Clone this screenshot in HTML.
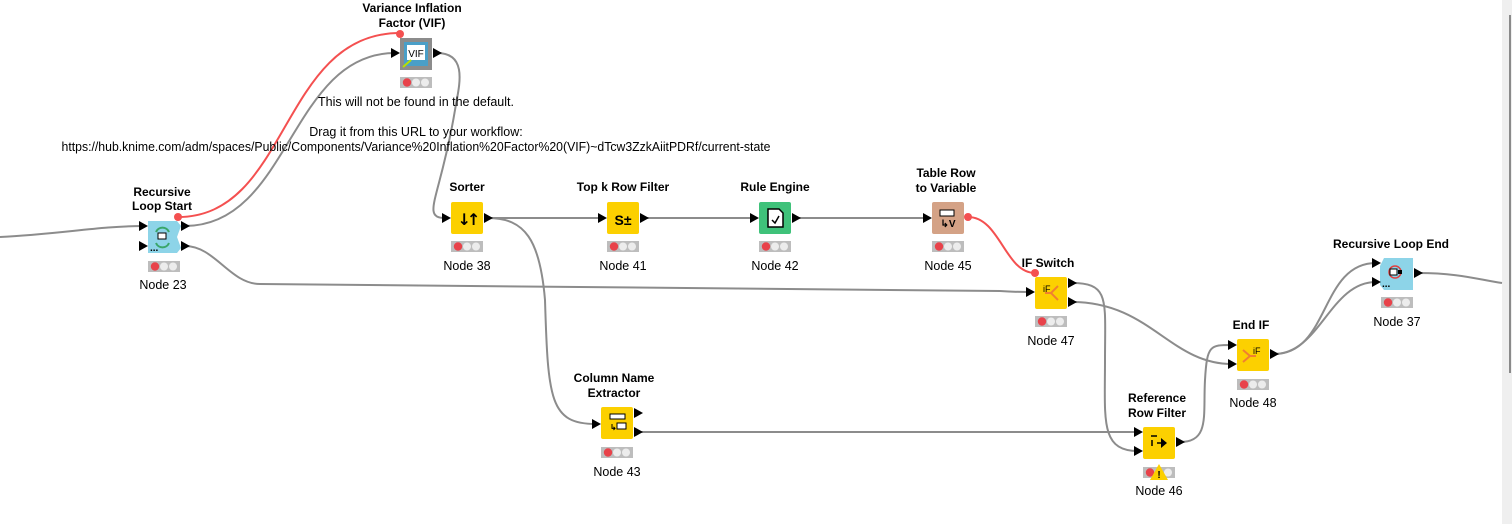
<!DOCTYPE html>
<html><head><meta charset="utf-8"><style>
body{margin:0;background:#fff;}
svg{display:block;font-family:"Liberation Sans",Arial,sans-serif;}
.t{font-size:12px;font-weight:bold;text-anchor:middle;fill:#000}
.n{font-size:12.5px;text-anchor:middle;fill:#000}
.c{fill:none;stroke:#8c8c8c;stroke-width:2}
.r{fill:none;stroke:#f45050;stroke-width:2}
</style></head><body>
<svg width="1512" height="524" viewBox="0 0 1512 524" xmlns="http://www.w3.org/2000/svg">
<defs>
<g id="st"><rect x="0" y="0" width="32" height="11" fill="#bdbdbd"/><circle cx="7" cy="5.5" r="4.2" fill="#e8424a"/><circle cx="16" cy="5.5" r="4" fill="#ececec"/><circle cx="25" cy="5.5" r="4" fill="#ececec"/></g>
<path id="pt" d="M0,-5 L9,0 L0,5Z" fill="#000"/>
</defs>
<rect x="1502" y="0" width="10" height="524" fill="#efefef"/>
<rect x="1509" y="15" width="2" height="358" fill="#8a8a8a"/>

<path class="c" d="M0,237 C60,234 100,226 143,226"/>
<path class="c" d="M185,226 C290,226 290,53 395,53"/>
<path class="r" d="M178,217 C290,217 280,33 400,33"/>
<path class="c" d="M437,53 C470,53 458,90 455,110 C440,200 420,218 446,218"/>
<path class="c" d="M185,246 C215,246 230,284 260,284 L1000,291 C1015,292 1020,292 1028,292"/>
<path class="c" d="M488,218 L602,218"/>
<path class="c" d="M488,218 C525,218 540,240 545,300 C548,400 550,424 596,424"/>
<path class="c" d="M644,218 L754,218"/>
<path class="c" d="M796,218 L927,218"/>
<path class="r" d="M968,217 C1000,217 1005,273 1035,273"/>
<path class="c" d="M1072,283 C1110,283 1105,300 1105,360 C1105,420 1100,451 1138,451"/>
<path class="c" d="M1072,302 C1150,302 1170,364 1232,364"/>
<path class="c" d="M638,432 L1138,432"/>
<path class="c" d="M1180,442 C1210,442 1203,415 1205,380 C1207,345 1210,345 1232,345"/>
<path class="c" d="M1274,354 C1330,354 1320,263 1376,263"/>
<path class="c" d="M1274,354 C1320,354 1330,282 1376,282"/>
<path class="c" d="M1418,273 C1460,273 1480,280 1502,283"/>

<text class="t" x="162" y="196">Recursive</text><text class="t" x="162" y="210">Loop Start</text>
<path d="M148,221 H177 L181,226 L177,237 L181,248 L177,253 H148Z" fill="#8dd4e8"/>
<path d="M156,232 a7,7 0 0 1 13,0 M169,243 a7,7 0 0 1 -13,0" fill="none" stroke="#3aa66a" stroke-width="2"/>
<rect x="158" y="233" width="8" height="6" fill="#fff" stroke="#000"/>
<text x="150" y="251" font-size="10" font-weight="bold">...</text>
<use href="#pt" x="139" y="226"/><use href="#pt" x="139" y="246"/><use href="#pt" x="181" y="226"/><use href="#pt" x="181" y="246"/>
<circle cx="178" cy="217" r="4" fill="#f45050"/>
<use href="#st" x="148" y="261"/>
<text class="n" x="163" y="289">Node 23</text>

<text class="t" x="412" y="12">Variance Inflation</text><text class="t" x="412" y="27">Factor (VIF)</text>
<rect x="400" y="38" width="32" height="32" fill="#8c8c8c"/>
<rect x="404" y="42" width="24" height="24" fill="#4a9fc8"/>
<rect x="407" y="45" width="18" height="15" fill="#fff"/>
<text x="416" y="57" font-size="10" text-anchor="middle">VIF</text>
<path d="M403,67 L411,60" stroke="#b8e000" stroke-width="2"/>
<use href="#pt" x="391" y="53"/><use href="#pt" x="433" y="53"/>
<circle cx="400" cy="34" r="4" fill="#f45050"/>
<use href="#st" x="400" y="77"/>
<text class="n" x="416" y="106" font-size="12">This will not be found in the default.</text>
<text class="n" x="416" y="136" font-size="12">Drag it from this URL to your workflow:</text>
<text class="n" x="416" y="151" font-size="12" textLength="709" lengthAdjust="spacingAndGlyphs">https://hub.knime.com/adm/spaces/Public/Components/Variance%20Inflation%20Factor%20(VIF)~dTcw3ZzkAiitPDRf/current-state</text>

<text class="t" x="467" y="191">Sorter</text>
<rect x="451" y="202" width="32" height="32" rx="2" fill="#fcd000"/>
<text x="467" y="225" font-size="16" font-weight="bold" text-anchor="middle" letter-spacing="-4" font-family="DejaVu Sans">↓↑</text>
<use href="#pt" x="442" y="218"/><use href="#pt" x="484" y="218"/>
<use href="#st" x="451" y="241"/><text class="n" x="467" y="270">Node 38</text>

<text class="t" x="623" y="191">Top k Row Filter</text>
<rect x="607" y="202" width="32" height="32" rx="2" fill="#fcd000"/>
<text x="623" y="225" font-size="14" font-weight="bold" text-anchor="middle">S±</text>
<use href="#pt" x="598" y="218"/><use href="#pt" x="640" y="218"/>
<use href="#st" x="607" y="241"/><text class="n" x="623" y="270">Node 41</text>

<text class="t" x="775" y="191">Rule Engine</text>
<rect x="759" y="202" width="32" height="32" rx="2" fill="#3fc27a"/>
<path d="M768,209 H779 L783,213 V227 H768Z" fill="#fff" stroke="#000" stroke-width="1.5"/>
<path d="M772,220 L775,223 L779,216" fill="none" stroke="#000" stroke-width="1.5"/>
<use href="#pt" x="750" y="218"/><use href="#pt" x="792" y="218"/>
<use href="#st" x="759" y="241"/><text class="n" x="775" y="270">Node 42</text>

<text class="t" x="946" y="177">Table Row</text><text class="t" x="946" y="192">to Variable</text>
<rect x="932" y="202" width="32" height="32" rx="2" fill="#d4a286"/>
<rect x="940" y="210" width="14" height="6" fill="#fff" stroke="#000"/>
<text x="948" y="227" font-size="10" font-weight="bold" text-anchor="middle">↳V</text>
<use href="#pt" x="923" y="218"/>
<circle cx="968" cy="217" r="4" fill="#f45050"/>
<use href="#st" x="932" y="241"/><text class="n" x="948" y="270">Node 45</text>

<text class="t" x="1048" y="267">IF Switch</text>
<rect x="1035" y="277" width="32" height="32" rx="2" fill="#fcd000"/>
<text x="1043" y="292" font-size="9">iF</text>
<path d="M1045,293 H1051 L1058,286 M1051,293 L1058,300" fill="none" stroke="#f08030" stroke-width="2"/>
<use href="#pt" x="1026" y="292"/><use href="#pt" x="1068" y="283"/><use href="#pt" x="1068" y="302"/>
<circle cx="1035" cy="273" r="4" fill="#f45050"/>
<use href="#st" x="1035" y="316"/><text class="n" x="1051" y="345">Node 47</text>

<text class="t" x="614" y="382">Column Name</text><text class="t" x="614" y="397">Extractor</text>
<rect x="601" y="407" width="32" height="32" rx="2" fill="#fcd000"/>
<rect x="610" y="414" width="15" height="5" fill="#fff" stroke="#000"/>
<rect x="617" y="423" width="9" height="6" fill="#fff" stroke="#000"/>
<text x="610" y="430" font-size="8" font-weight="bold">↳</text>
<use href="#pt" x="592" y="424"/><use href="#pt" x="634" y="413"/><use href="#pt" x="634" y="432"/>
<use href="#st" x="601" y="447"/><text class="n" x="617" y="476">Node 43</text>

<text class="t" x="1157" y="402">Reference</text><text class="t" x="1157" y="417">Row Filter</text>
<rect x="1143" y="427" width="32" height="32" rx="2" fill="#fcd000"/>
<path d="M1151,436 H1157 M1152,440 V446 M1157,443 H1162" stroke="#000" stroke-width="1.5"/>
<path d="M1161,438 L1167,443 L1161,448Z" fill="#000"/>
<use href="#pt" x="1134" y="432"/><use href="#pt" x="1134" y="451"/><use href="#pt" x="1176" y="442"/>
<use href="#st" x="1143" y="467"/>
<path d="M1159,464 L1168,480 H1150Z" fill="#fcd000"/>
<text x="1159" y="478" font-size="10" font-weight="bold" text-anchor="middle">!</text>
<text class="n" x="1159" y="495">Node 46</text>

<text class="t" x="1251" y="329">End IF</text>
<rect x="1237" y="339" width="32" height="32" rx="2" fill="#fcd000"/>
<text x="1253" y="354" font-size="9">iF</text>
<path d="M1243,350 L1250,356 H1256 M1250,356 L1243,362" fill="none" stroke="#f08030" stroke-width="2"/>
<use href="#pt" x="1228" y="345"/><use href="#pt" x="1228" y="364"/><use href="#pt" x="1270" y="354"/>
<use href="#st" x="1237" y="379"/><text class="n" x="1253" y="407">Node 48</text>

<text class="t" x="1391" y="248">Recursive Loop End</text>
<path d="M1384,258 H1413 V290 H1384 L1380,285 V266Z" fill="#8dd4e8"/>
<circle cx="1395" cy="272" r="6" fill="none" stroke="#e04040" stroke-width="1.5"/>
<rect x="1390" y="269" width="7" height="6" fill="#fff" stroke="#000"/><rect x="1398" y="270" width="4" height="4" fill="#000"/>
<text x="1382" y="287" font-size="10" font-weight="bold">...</text>
<use href="#pt" x="1372" y="263"/><use href="#pt" x="1372" y="282"/><use href="#pt" x="1414" y="273"/>
<use href="#st" x="1381" y="297"/><text class="n" x="1397" y="326">Node 37</text>
</svg>
</body></html>
